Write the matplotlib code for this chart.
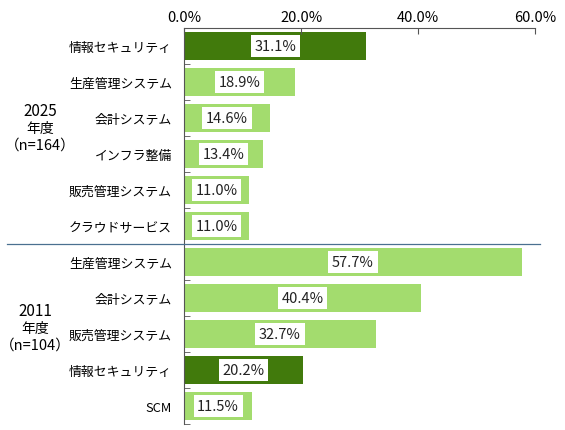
import matplotlib
matplotlib.use("Agg")
import matplotlib.pyplot as plt
import matplotlib.transforms as mtransforms
from matplotlib.lines import Line2D
from matplotlib.ticker import FixedLocator

plt.rcParams["font.family"] = ["Noto Sans CJK JP", "DejaVu Sans"]

# Data
group_years = ["2025", "2011"]
group_n = ["（n=164）", "（n=104）"]
labels_2025 = ["情報セキュリティ", "生産管理システム", "会計システム", "インフラ整備", "販売管理システム", "クラウドサービス"]
values_2025 = [31.1, 18.9, 14.6, 13.4, 11.0, 11.0]
labels_2011 = ["生産管理システム", "会計システム", "販売管理システム", "情報セキュリティ", "SCM"]
values_2011 = [57.7, 40.4, 32.7, 20.2, 11.5]
highlight = "情報セキュリティ"
xticks = [0, 20, 40, 60]

dark_green = "#417a0c"
light_green = "#a3dc6e"

labels = labels_2025 + labels_2011
values = values_2025 + values_2011
ypos = list(range(len(labels)))
colors = [dark_green if l == highlight else light_green for l in labels]

fig = plt.figure(figsize=(5.65, 4.31), dpi=100)
ax = fig.add_axes([184.5 / 565, 6 / 431, 350.5 / 565, 396 / 431])

ax.barh(ypos, values, height=0.78, color=colors)
for y, v in zip(ypos, values):
    ax.text(v / 2, y, f"{v:.1f}%", ha="center", va="center", fontsize=10.5, color="#222222",
            bbox=dict(boxstyle="square,pad=0.25", fc="white", ec="none"))

ax.set_xlim(0, 60)
ax.set_ylim(len(labels) - 0.5, -0.5)
ax.set_xticks(xticks)
ax.set_xticklabels([f"{t:.1f}%" for t in xticks], fontsize=10.5)
ax.xaxis.tick_top()
ax.tick_params(axis="x", direction="in", length=4, pad=3, color="#555555")

ax.set_yticks(ypos)
ax.set_yticklabels(labels, fontsize=9.3)
ax.yaxis.set_minor_locator(FixedLocator([i + 0.5 for i in range(-1, len(labels))]))
ax.tick_params(axis="y", which="major", length=0, pad=9)
ax.tick_params(axis="y", which="minor", direction="in", length=4, color="#555555")

for side in ["right", "bottom"]:
    ax.spines[side].set_visible(False)
for side in ["top", "left"]:
    ax.spines[side].set_color("#555555")
    ax.spines[side].set_linewidth(0.8)

# separator between the two year groups
trans = mtransforms.blended_transform_factory(fig.transFigure, ax.transData)
fig.add_artist(Line2D([7 / 565, 540 / 565], [len(labels_2025) - 0.5] * 2,
                      transform=trans, color="#4a7090", lw=0.9))

# group labels
for year, n, xc, yc in zip(group_years, group_n, [40, 35], [129, 329]):
    fig.text(xc / 565, 1 - (yc - 17) / 431, year, ha="center", va="center", fontsize=11)
    fig.text(xc / 565, 1 - yc / 431, "年度", ha="center", va="center", fontsize=10)
    fig.text(xc / 565, 1 - (yc + 17) / 431, n, ha="center", va="center", fontsize=10.5)

fig.savefig("out.png", dpi=100)
